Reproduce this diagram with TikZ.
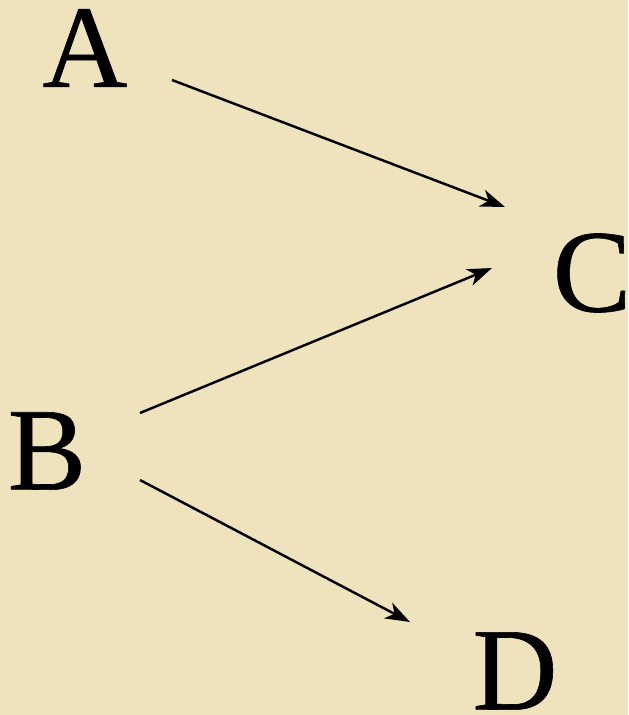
\documentclass[tikz,border=0pt]{standalone}
\usepackage{fontspec}
\setmainfont{Liberation Serif}
\newfontfamily\letterfont[FakeBold=0.5]{Liberation Serif}
\definecolor{parchment}{RGB}{239,227,190}
\usetikzlibrary{arrows.meta}

\begin{document}
\begin{tikzpicture}[
  letter/.style={
    inner sep=2pt, outer sep=0pt,
    font=\letterfont\fontsize{67}{70}\selectfont,
    text=black
  },
  conn/.style={-{Stealth[length=14pt, width=10pt, inset=4pt]}, line width=1.4pt, draw=black}
]
\fill[parchment] (0,0) rectangle (12.56,-14.30);
\useasboundingbox (0,0) rectangle (12.56,-14.30);

\node[letter] (A) at (1.70,-0.96)  {A};
\node[letter] (C) at (11.84,-5.46) {C};
\node[letter] (B) at (0.94,-9.02)  {B};
\node[letter] (D) at (10.30,-13.42) {D};

\draw[conn] ([shift={(1.74,-0.64)}]A.center) -- ([shift={(-1.74,1.32)}]C.center);
\draw[conn] ([shift={(1.86,0.76)}]B.center)  -- ([shift={(-2.00,0.10)}]C.center);
\draw[conn] ([shift={(1.86,-0.58)}]B.center) -- ([shift={(-2.10,0.98)}]D.center);
\end{tikzpicture}
\end{document}
